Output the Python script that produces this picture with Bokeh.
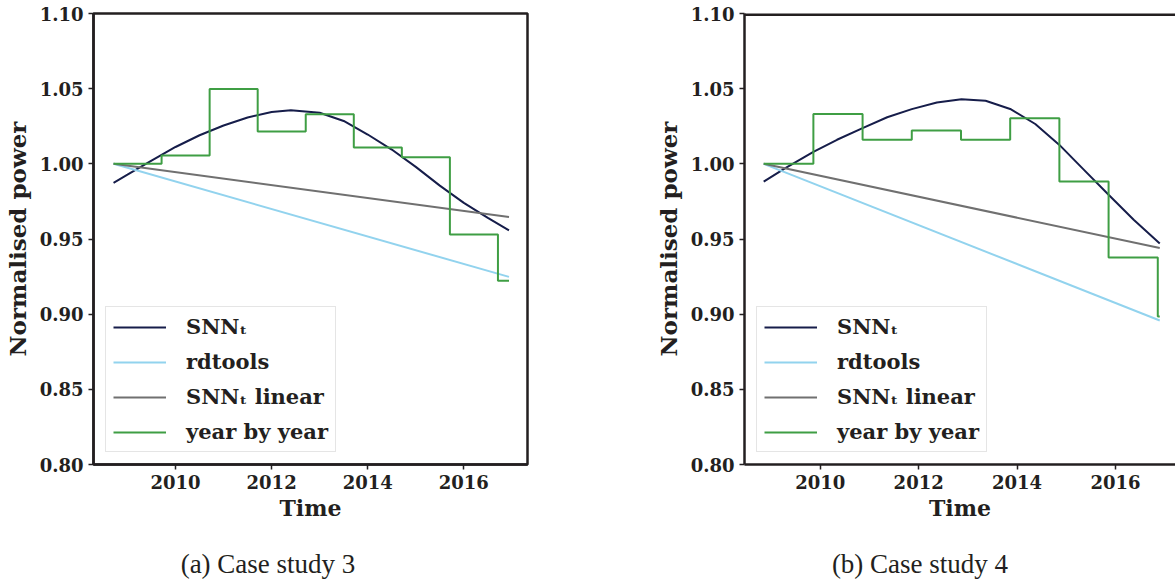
from bokeh.plotting import figure
from bokeh.layouts import row, column
from bokeh.models import Range1d, FixedTicker, PrintfTickFormatter, Legend, LegendItem, Span, Div, Spacer
from bokeh.embed import file_html
from bokeh.resources import INLINE

# ---------------- data: case study 3 ----------------
a_snn_x = [2008.71, 2009.0, 2009.5, 2009.71, 2010.0, 2010.5, 2011.0, 2011.5, 2012.0, 2012.4,
           2013.0, 2013.5, 2014.0, 2014.5, 2015.0, 2015.5, 2016.0, 2016.5, 2016.94]
a_snn_y = [0.9874, 0.9928, 1.0022, 1.0060, 1.0112, 1.0190, 1.0255, 1.0308, 1.0345, 1.0357,
           1.0340, 1.0285, 1.0195, 1.0095, 0.9980, 0.9855, 0.9740, 0.9640, 0.9557]
a_lin_x = [2008.71, 2016.94]
a_rd_y = [1.000, 0.9248]
a_snnlin_y = [1.000, 0.9646]
a_yby_x = [2008.71, 2009.71, 2010.71, 2011.71, 2012.71, 2013.71, 2014.71, 2015.71, 2016.71, 2016.94]
a_yby_y = [1.000, 1.0055, 1.0498, 1.0215, 1.033, 1.0108, 1.0044, 0.953, 0.9222, 0.9222]

# ---------------- data: case study 4 ----------------
b_snn_x = [2008.85, 2009.29, 2009.86, 2010.34, 2010.86, 2011.36, 2011.86, 2012.37, 2012.87,
           2013.36, 2013.86, 2014.37, 2014.86, 2015.36, 2015.86, 2016.37, 2016.90]
b_snn_y = [0.9882, 0.9971, 1.0080, 1.0160, 1.0237, 1.0310, 1.0364, 1.0408, 1.0430,
           1.0420, 1.0365, 1.0265, 1.0126, 0.9960, 0.9794, 0.9628, 0.9470]
b_lin_x = [2008.85, 2016.90]
b_rd_y = [1.000, 0.8958]
b_snnlin_y = [1.000, 0.9440]
b_yby_x = [2008.85, 2009.86, 2010.86, 2011.86, 2012.86, 2013.86, 2014.86, 2015.86, 2016.86, 2016.90]
b_yby_y = [1.000, 1.0332, 1.016, 1.0221, 1.016, 1.0304, 0.9882, 0.9377, 0.8985, 0.8985]

x_ticks = [2010, 2012, 2014, 2016]
y_ticks = [0.80, 0.85, 0.90, 0.95, 1.00, 1.05, 1.10]
y_min, y_max = 0.80, 1.10
labels = ["SNN\u209c", "rdtools", "SNN\u209c linear", "year by year"]
captions = ["(a) Case study 3", "(b) Case study 4"]

C_SNN = "#161d4a"
C_RD = "#92d3ee"
C_LIN = "#707070"
C_YBY = "#3f9e44"
TXT = "#231f20"
FONT = "DejaVu Serif"


def panel(xr, snn_x, snn_y, lin_x, rd_y, lin_y, yby_x, yby_y, width, mb_left, mb_right, right_spine):
    p = figure(width=width, height=540, x_range=Range1d(*xr), y_range=Range1d(y_min, y_max),
               output_backend="svg", toolbar_location=None,
               min_border_left=mb_left, min_border_right=mb_right,
               min_border_top=13, min_border_bottom=76)
    p.background_fill_color = "white"
    p.border_fill_color = "white"
    p.xgrid.visible = False
    p.ygrid.visible = False
    if right_spine:
        p.outline_line_color = TXT
        p.outline_line_width = 2.5
    else:
        p.outline_line_color = None
        p.add_layout(Span(location=y_max, dimension="width", line_color=TXT, line_width=5))

    r1 = p.line(snn_x, snn_y, line_color=C_SNN, line_width=2)
    r2 = p.line(lin_x, rd_y, line_color=C_RD, line_width=2)
    r3 = p.line(lin_x, lin_y, line_color=C_LIN, line_width=2)
    r4 = p.step(yby_x, yby_y, mode="after", line_color=C_YBY, line_width=2)

    for ax in (p.xaxis[0], p.yaxis[0]):
        ax.axis_line_color = TXT
        ax.axis_line_width = 2.5
        ax.major_tick_line_color = TXT
        ax.major_tick_line_width = 1.5
        ax.major_tick_out = 5
        ax.major_tick_in = 0
        ax.minor_tick_line_color = None
        ax.major_label_text_font = FONT
        ax.major_label_text_font_style = "bold"
        ax.major_label_text_font_size = "18px"
        ax.major_label_text_color = TXT
        ax.major_label_standoff = 5
        ax.axis_label_text_font = FONT
        ax.axis_label_text_font_style = "bold"
        ax.axis_label_text_color = TXT
    p.xaxis[0].axis_label_text_font_size = "22px"
    p.yaxis[0].axis_label_text_font_size = "23px"
    p.xaxis[0].ticker = FixedTicker(ticks=x_ticks)
    p.yaxis[0].ticker = FixedTicker(ticks=y_ticks)
    p.yaxis[0].formatter = PrintfTickFormatter(format="%.2f")
    p.xaxis[0].axis_label = "Time"
    p.yaxis[0].axis_label = "Normalised power"
    p.xaxis[0].axis_label_standoff = 3
    p.yaxis[0].axis_label_standoff = 6

    leg = Legend(items=[LegendItem(label=labels[0], renderers=[r1]),
                        LegendItem(label=labels[1], renderers=[r2]),
                        LegendItem(label=labels[2], renderers=[r3]),
                        LegendItem(label=labels[3], renderers=[r4])],
                 location=(12, 12))
    leg.label_text_font = FONT
    leg.label_text_font_style = "bold"
    leg.label_text_font_size = "21px"
    leg.label_text_color = TXT
    leg.glyph_width = 53
    leg.glyph_height = 20
    leg.label_height = 20
    leg.label_standoff = 20
    leg.spacing = 10
    leg.padding = 7
    leg.margin = 0
    leg.border_line_color = "#cccccc"
    leg.border_line_width = 1
    leg.background_fill_color = "white"
    leg.background_fill_alpha = 0.8
    p.add_layout(leg, "center")
    return p


def caption_div(text, width):
    return Div(text=text, width=width, height=43, margin=0,
               styles={"font-family": "'Liberation Serif', serif", "font-size": "27px",
                       "line-height": "48px", "text-align": "center", "color": TXT,
                       "white-space": "nowrap"})


pa = panel((2008.293, 2017.325), a_snn_x, a_snn_y, a_lin_x, a_rd_y, a_snnlin_y, a_yby_x, a_yby_y,
           640, 93, 113, True)
pb = panel((2008.46, 2017.22), b_snn_x, b_snn_y, b_lin_x, b_rd_y, b_snnlin_y, b_yby_x, b_yby_y,
           535, 104, 0, False)

caps = row(caption_div(captions[0], 536), Spacer(width=129, height=43),
           caption_div(captions[1], 510), spacing=0)
layout = column(row(pa, pb, spacing=0), caps, spacing=0)
open("out.html", "w").write(file_html(layout, INLINE))
